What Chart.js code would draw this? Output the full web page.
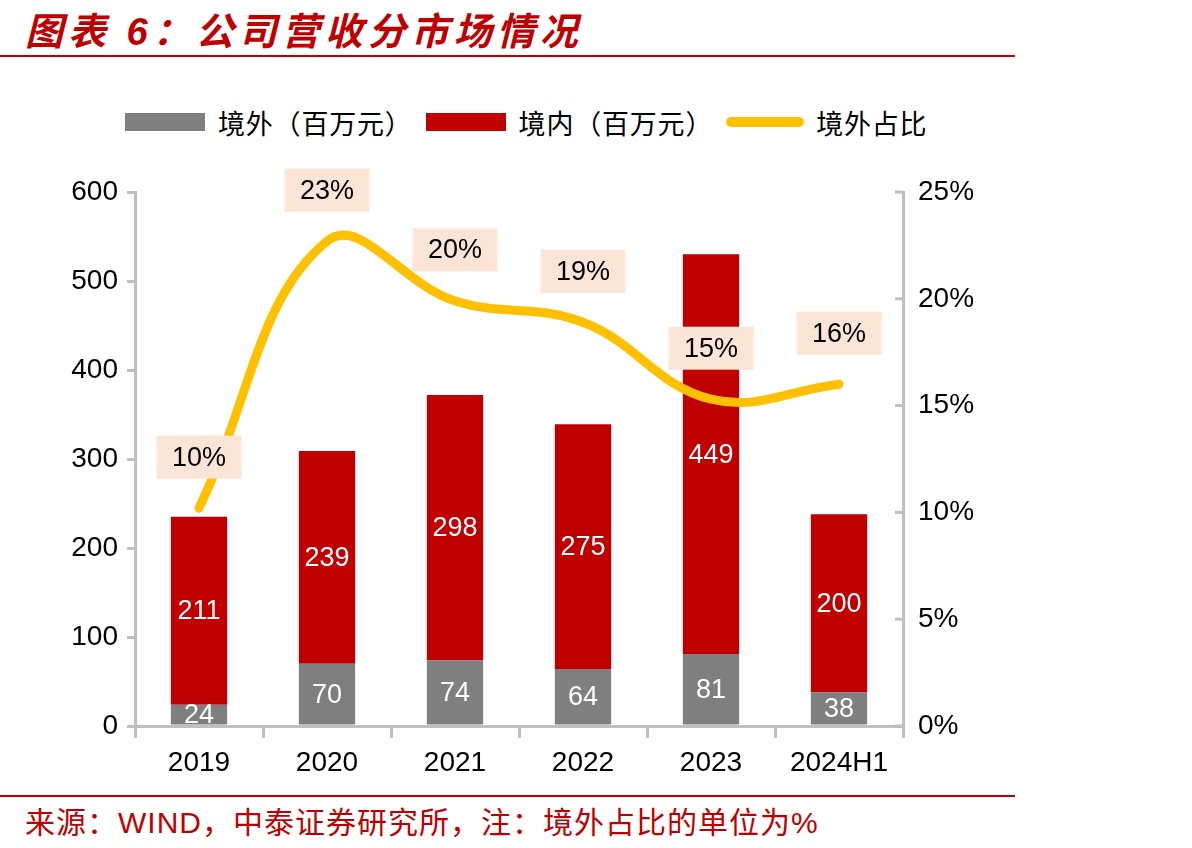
<!DOCTYPE html>
<html>
<head>
<meta charset="utf-8">
<script src="https://cdn.jsdelivr.net/npm/chart.js@4.4.1/dist/chart.umd.min.js"></script>
<style>
  body { margin: 0; background: #fff; width: 1192px; height: 848px; position: relative; overflow: hidden;
         font-family: "Liberation Sans", "Noto Sans CJK SC", sans-serif; }
  #title { position: absolute; left: 25px; top: 1px; font-size: 38px; letter-spacing: 5px; font-weight: bold; font-style: italic; color: #C00000; }
  .rule { position: absolute; left: 0; width: 1015px; height: 2px; background: #C00000; }
  #legend { position: absolute; left: 125px; top: 104px; height: 36px; display: flex; align-items: center;
            font-family: "Noto Sans CJK SC", sans-serif; font-size: 27px; letter-spacing: 0.8px; color: #000; }
  #legend .box { width: 80px; height: 18px; margin-right: 13px; }
  #legend .ln { width: 78px; height: 10px; border-radius: 5px; background: #FFC000; margin-right: 12px; }
  #legend .txt { margin-right: 13px; }
  #chart { position: absolute; left: 0; top: 150px; }
  #source { position: absolute; left: 25px; top: 798px; font-size: 30px; letter-spacing: 1px; color: #C00000; }
</style>
</head>
<body>
<div id="title">图表 6：公司营收分市场情况</div>
<div class="rule" style="top:55px"></div>
<div id="legend">
  <div class="box" style="background:#7F7F7F"></div><span class="txt">境外（百万元）</span>
  <div class="box" style="background:#C00000"></div><span class="txt">境内（百万元）</span>
  <div class="ln"></div><span class="txt">境外占比</span>
</div>
<canvas id="chart" width="1015" height="640"></canvas>
<div class="rule" style="top:795px"></div>
<div id="source">来源：WIND，中泰证券研究所，注：境外占比的单位为%</div>
<script>
// datos
const categories = ['2019', '2020', '2021', '2022', '2023', '2024H1'];
const overseas = [24, 70, 74, 64, 81, 38];        // 境外（百万元）
const domestic = [211, 239, 298, 275, 449, 200];  // 境内（百万元）
const overseasShare = [10.2, 22.7, 19.9, 18.9, 15.3, 16.0]; // 境外占比 %
const leftMax = 600, leftStep = 100;
const rightMax = 25, rightStep = 5;

const axisGray = '#BFBFBF';
const tickFont = { size: 28, family: '"Liberation Sans", Arial, sans-serif' };

// etiquetas de valores y cajas de porcentaje
const labelPlugin = {
  id: 'valueLabels',
  afterDatasetsDraw(chart) {
    const ctx = chart.ctx;
    ctx.save();
    ctx.font = '27px "Liberation Sans", Arial, sans-serif';
    ctx.textAlign = 'center';
    ctx.textBaseline = 'middle';
    [0, 1].forEach(function (di) {
      chart.getDatasetMeta(di).data.forEach(function (bar, i) {
        ctx.fillStyle = '#fff';
        ctx.fillText(chart.data.datasets[di].data[i], bar.x, (bar.y + bar.base) / 2 + 1);
      });
    });
    chart.getDatasetMeta(2).data.forEach(function (pt, i) {
      const txt = Math.round(overseasShare[i]) + '%';
      const w = 85, h = 43, cy = pt.y - 51;
      ctx.fillStyle = '#FBE5D6';
      ctx.fillRect(pt.x - w / 2, cy - h / 2, w, h);
      ctx.fillStyle = '#000';
      ctx.fillText(txt, pt.x, cy + 1);
    });
    // marcas hacia dentro del eje derecho
    const r = chart.scales.y1;
    ctx.strokeStyle = axisGray;
    ctx.lineWidth = 3;
    for (let v = 0; v <= rightMax; v += rightStep) {
      const y = r.getPixelForValue(v);
      ctx.beginPath();
      ctx.moveTo(r.left - 8, y);
      ctx.lineTo(r.left, y);
      ctx.stroke();
    }
    ctx.restore();
  }
};

const chart = new Chart(document.getElementById('chart'), {
  type: 'bar',
  data: {
    labels: categories,
    datasets: [{
      label: '境外（百万元）',
      data: overseas,
      backgroundColor: '#7F7F7F',
      stack: 'rev',
      yAxisID: 'y',
      order: 1,
      categoryPercentage: 1,
      barPercentage: 0.44
    }, {
      label: '境内（百万元）',
      data: domestic,
      backgroundColor: '#C00000',
      stack: 'rev',
      yAxisID: 'y',
      order: 1,
      categoryPercentage: 1,
      barPercentage: 0.44
    }, {
      type: 'line',
      label: '境外占比',
      data: overseasShare,
      borderColor: '#FFC000',
      borderWidth: 9,
      borderCapStyle: 'round',
      pointRadius: 0,
      tension: 0.4,
      fill: false,
      yAxisID: 'y1',
      order: 0
    }]
  },
  options: {
    responsive: false,
    animation: false,
    devicePixelRatio: 1,
    layout: { padding: { top: 42, left: 0, right: 0, bottom: 0 } },
    plugins: { legend: { display: false }, tooltip: { enabled: false } },
    scales: {
      x: {
        stacked: true,
        grid: { offset: true, drawOnChartArea: false, color: axisGray, lineWidth: 3, tickLength: 12 },
        border: { color: axisGray, width: 3 },
        ticks: { color: '#000', font: tickFont, padding: 8, maxRotation: 0 },
        afterFit: function (s) { s.height = 64; }
      },
      y: {
        position: 'left',
        stacked: true,
        min: 0,
        max: leftMax,
        grid: { drawOnChartArea: false, color: axisGray, lineWidth: 3, tickLength: 8 },
        border: { color: axisGray, width: 3 },
        ticks: { stepSize: leftStep, color: '#000', font: tickFont, padding: 9 },
        afterFit: function (s) { s.width = 135; }
      },
      y1: {
        position: 'right',
        min: 0,
        max: rightMax,
        grid: { drawOnChartArea: false, drawTicks: false },
        border: { color: axisGray, width: 3 },
        ticks: { stepSize: rightStep, color: '#000', font: tickFont, padding: 15,
                 callback: function (v) { return v + '%'; } },
        afterFit: function (s) { s.width = 112; }
      }
    }
  },
  plugins: [labelPlugin]
});
</script>
</body>
</html>
